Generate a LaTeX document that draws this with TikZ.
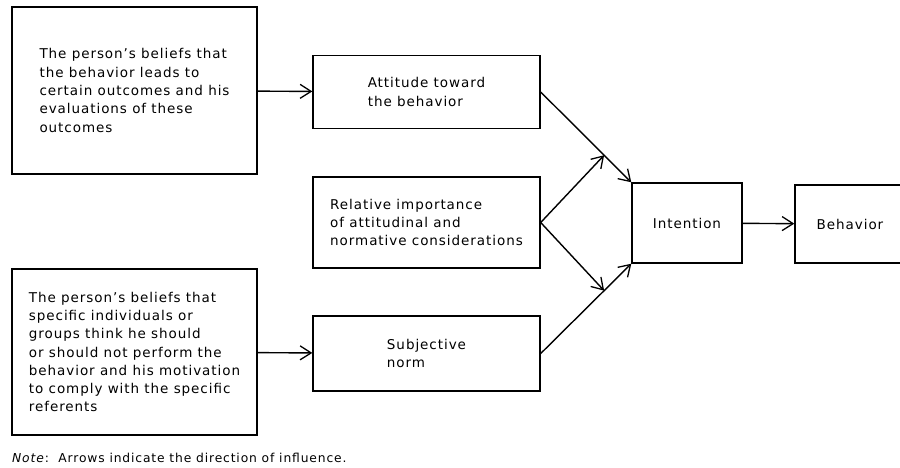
\documentclass[tikz,border=0pt]{standalone}
\usepackage{fontspec}
\setmainfont{DejaVu Sans}[LetterSpace=7]
\usepackage{tikz}
\usetikzlibrary{arrows.meta,calc}

\tikzset{box/.style={draw, line width=1.4pt, align=left, inner sep=0pt,
                     font=\fontsize{13.5}{18.3}\selectfont},
         link/.style={line width=1.4pt, -{Straight Barb[length=11pt,width=14pt,line width=1.3pt]}}}

\begin{document}
\begin{tikzpicture} [x=1pt,y=-1pt]
    \useasboundingbox (0,0) rectangle (900,467);
                      % left column
    \node[box, minimum width=245pt, minimum height=167pt] (beliefsA) at (134.5,90.5)
        {The person's beliefs that\\the behavior leads to\\certain outcomes and his\\evaluations of these\\outcomes};
    \node[box, minimum width=245pt, minimum height=166pt] (beliefsB) at (134.5,352)
        {The person's beliefs that\\specific individuals or\\groups think he should\\or should not perform the\\behavior and his motivation\\to comply with the specific\\referents};
                      % middle column
    \node[box, minimum width=227pt, minimum height=73pt] (attitude) at (426.5,92)
        {Attitude toward\\the behavior};
    \node[box, minimum width=227pt, minimum height=91pt] (relative) at (426.5,222.5)
        {Relative importance\\of attitudinal and\\normative considerations};
    \node[box, minimum width=227pt, minimum height=75pt] (subjective) at (426.5,353.5)
        {Subjective\\norm};
                      % right column
    \node[box, minimum width=110pt, minimum height=80pt] (intention) at (687,223) {Intention};
    \node[box, minimum width=110pt, minimum height=78pt] (behavior) at (850,224) {Behavior};

    \coordinate (J1) at ($(attitude.east)!0.7!(intention.north west)$); % upper join
    \coordinate (J2) at ($(subjective.east)!0.7!(intention.south west)$); % lower join

    \draw [link] (beliefsA) -- (attitude);
    \draw [link] (beliefsB) -- (subjective);
    \draw [link] (attitude.east) -- (intention.north west);
    \draw [link] (subjective.east) -- (intention.south west);
    \draw [link] (relative.east) -- (J1);
    \draw [link] (relative.east) -- (J2);
    \draw [link] (intention) -- (behavior);

    \node[anchor=base west, inner sep=0pt, font=\fontsize{12.3}{14}\selectfont] (note) at (12,462)
        {\textit{Note}:\ \ Arrows indicate the direction of influence.};
\end{tikzpicture}
\end{document}
